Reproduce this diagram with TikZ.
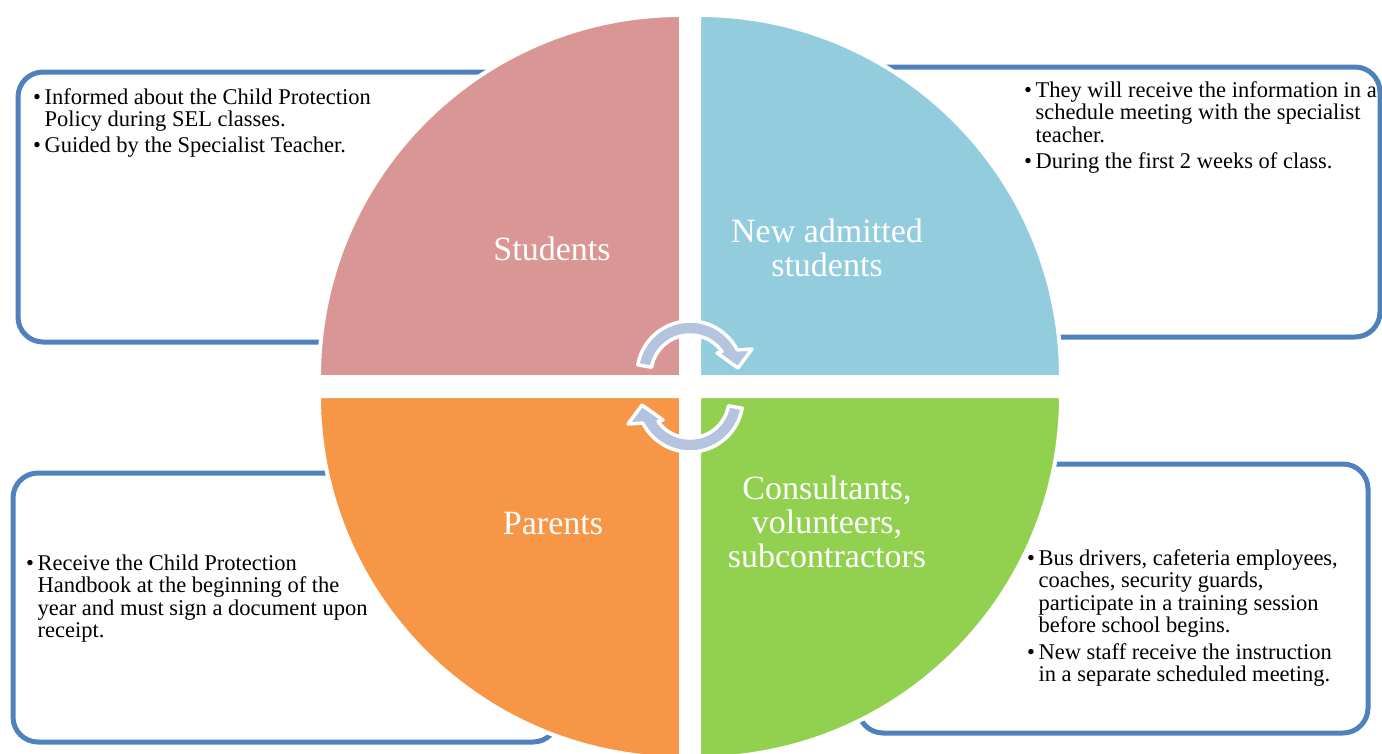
\documentclass[tikz,border=0pt]{standalone}
\usepackage{fontspec}
\setmainfont{Liberation Serif}
\definecolor{studcol}{HTML}{D99694}
\definecolor{newcol}{HTML}{93CDDD}
\definecolor{parcol}{HTML}{F79646}
\definecolor{conscol}{HTML}{92D050}
\definecolor{framecol}{HTML}{4F81BD}
\definecolor{arrcol}{HTML}{B4C4DF}

\begin{document}
\begin{tikzpicture}[x=1pt,y=-1pt,
  frame/.style={draw=framecol,line width=5pt,rounded corners=25pt},
  quad/.style={draw=white,line width=4pt},
  cyc/.style={fill=arrcol,draw=white,line width=3.5pt,line join=round},
  lbl/.style={text=white,align=center,font=\fontsize{34}{34}\selectfont},
  txt/.style={anchor=north west,inner sep=0pt,font=\fontsize{22.5}{22.5}\selectfont}
  ]
  \useasboundingbox (0,0) rectangle (1382,753);

  % boxes behind the circle
  \draw[frame] (18,72) rectangle (565,342);
  \draw[frame] (835,67) rectangle (1380,337);
  \draw[frame] (13,473) rectangle (558,742);
  \draw[frame] (858,464) rectangle (1368,733);

  % the four quarters
  \filldraw[quad,fill=studcol] (681,377) -- (319,377) arc[start angle=180,end angle=270,radius=362] -- cycle;
  \filldraw[quad,fill=newcol] (699,377) -- (699,15) arc[start angle=270,end angle=360,radius=362] -- cycle;
  \filldraw[quad,fill=conscol] (699,396) -- (1061,396) arc[start angle=0,end angle=90,radius=362] -- cycle;
  \filldraw[quad,fill=parcol] (681,396) -- (681,758) arc[start angle=90,end angle=180,radius=362] -- cycle;

  % circular arrows in the middle
  \begin{scope}[shift={(690,374)}]
    \filldraw[cyc] (190:53) arc[start angle=190,end angle=333,radius=53] -- (62,-25) -- (48,-6) -- (27,-21)
      -- (325:39) arc[start angle=325,end angle=190,radius=39] -- cycle;
  \end{scope}
  \begin{scope}[shift={(690,399)}]
    \filldraw[cyc] (10:53) arc[start angle=10,end angle=153,radius=53] -- (-62,25) -- (-48,6) -- (-27,21)
      -- (145:39) arc[start angle=145,end angle=10,radius=39] -- cycle;
  \end{scope}

  \node[lbl] (stud) at (552,249) {Students};
  \node[lbl] (newstud) at (827,248) {New admitted\\students};
  \node[lbl] (par) at (553,524) {Parents};
  \node[lbl] (cons) at (827,522) {Consultants,\\volunteers,\\subcontractors};

  \node[txt] (studtxt) at (33,88.25) {\begin{tabular}{@{}l@{\hspace{3.5pt}}l@{}}
    \textbullet & Informed about the Child Protection\\
    & Policy during SEL classes.\\[3.5pt]
    \textbullet & Guided by the Specialist Teacher.
  \end{tabular}};
  \node[txt] (newtxt) at (1024,81.25) {\begin{tabular}{@{}l@{\hspace{3.5pt}}l@{}}
    \textbullet & They will receive the information in a\\
    & schedule meeting with the specialist\\
    & teacher.\\[3.5pt]
    \textbullet & During the first 2 weeks of class.
  \end{tabular}};
  \node[txt] (partxt) at (26,554.25) {\begin{tabular}{@{}l@{\hspace{3.5pt}}l@{}}
    \textbullet & Receive the Child Protection\\
    & Handbook at the beginning of the\\
    & year and must sign a document upon\\
    & receipt.
  \end{tabular}};
  \node[txt] (constxt) at (1027,549.25) {\begin{tabular}{@{}l@{\hspace{3.5pt}}l@{}}
    \textbullet & Bus drivers, cafeteria employees,\\
    & coaches, security guards,\\
    & participate in a training session\\
    & before school begins.\\[4pt]
    \textbullet & New staff receive the instruction\\
    & in a separate scheduled meeting.
  \end{tabular}};
\end{tikzpicture}
\end{document}
